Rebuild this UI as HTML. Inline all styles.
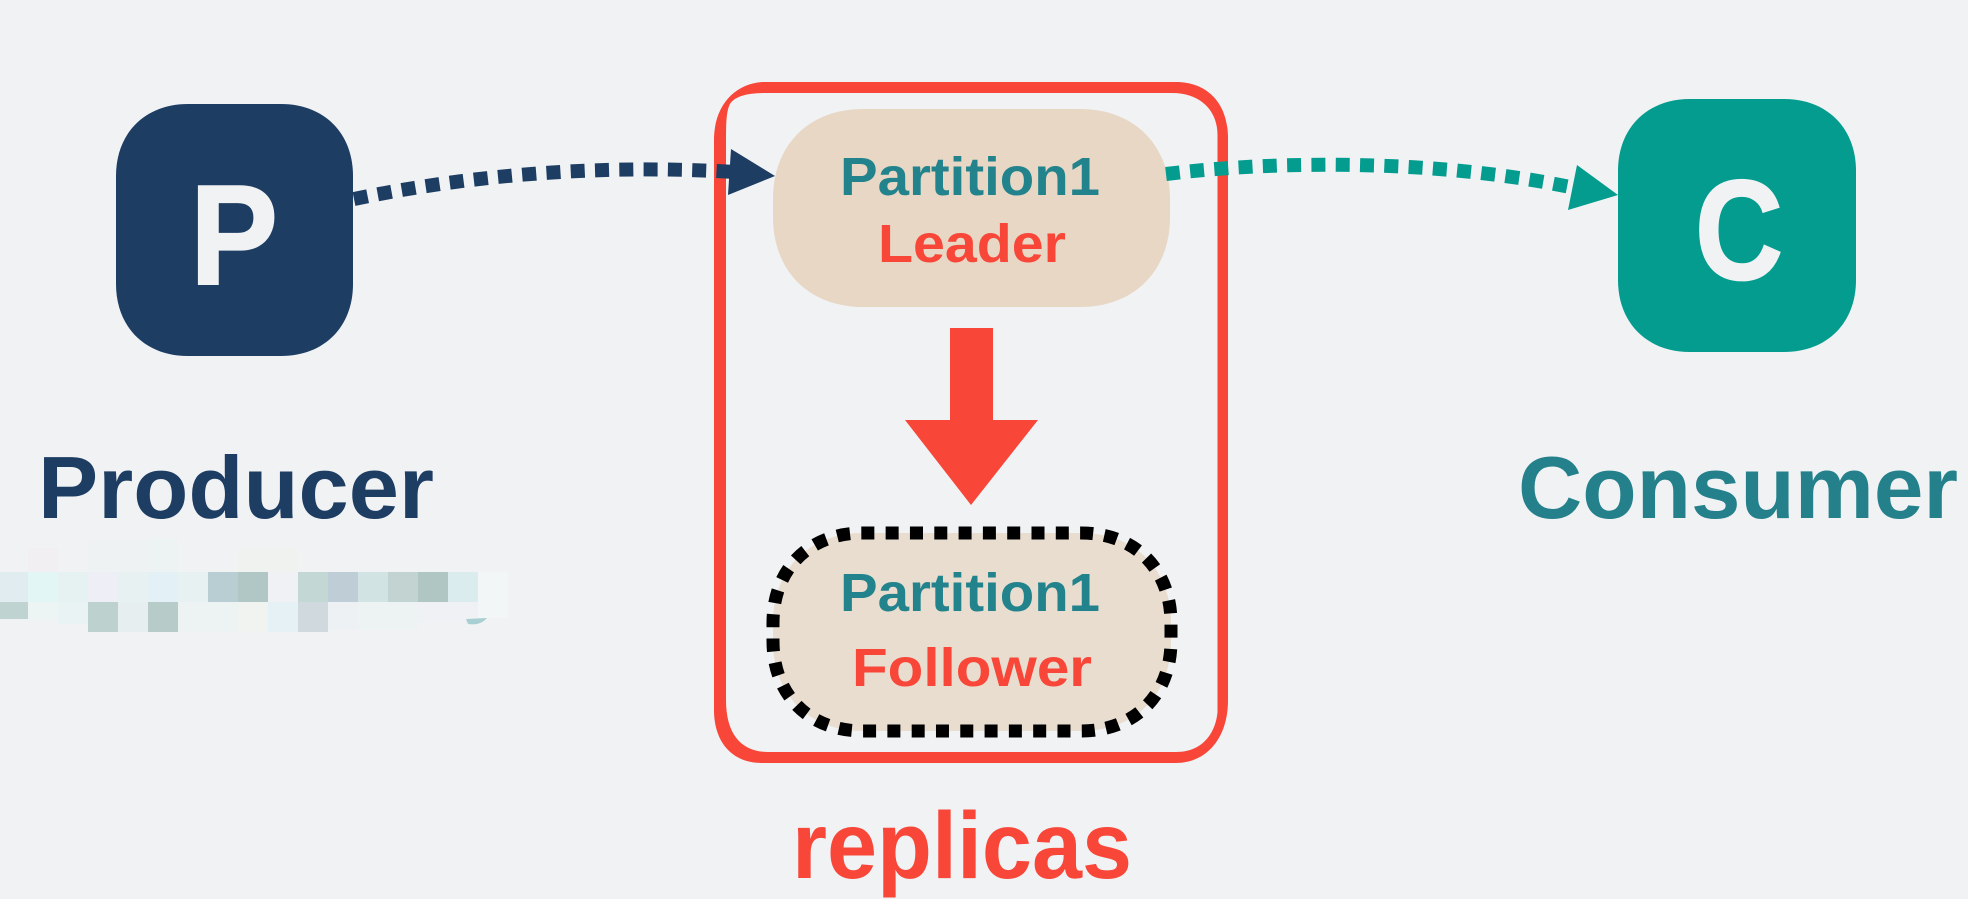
<!DOCTYPE html>
<html>
<head>
<meta charset="utf-8">
<style>
html,body{margin:0;padding:0;background:#f0f2f4;width:1968px;height:899px;overflow:hidden}
svg{display:block}
text{font-family:"Liberation Sans",sans-serif;font-weight:700;fill:currentColor}
</style>
</head>
<body>
<svg width="1968" height="899" viewBox="0 0 1968 899" xmlns="http://www.w3.org/2000/svg">
<rect width="1968" height="899" fill="#f0f2f4"/>

<!-- pixelated blur -->
<g shape-rendering="crispEdges">
<rect x="28" y="548" width="30" height="24" fill="#f2eff2"/>
<rect x="88" y="540" width="60" height="32" fill="#eef2f2"/>
<rect x="148" y="538" width="30" height="34" fill="#edf3f2"/>
<rect x="238" y="548" width="60" height="24" fill="#f0f2f0"/>
<rect x="0" y="572" width="28" height="30" fill="#e1ecf1"/>
<rect x="28" y="572" width="30" height="30" fill="#e3f6f6"/>
<rect x="58" y="572" width="30" height="30" fill="#e6f2f2"/>
<rect x="88" y="572" width="30" height="30" fill="#eeeef6"/>
<rect x="118" y="572" width="30" height="30" fill="#e8f1f2"/>
<rect x="148" y="572" width="30" height="30" fill="#e3f1f6"/>
<rect x="178" y="572" width="30" height="30" fill="#e8f1f1"/>
<rect x="208" y="572" width="30" height="30" fill="#b9ced3"/>
<rect x="238" y="572" width="30" height="30" fill="#b0c7c5"/>
<rect x="268" y="572" width="30" height="30" fill="#f0f1f5"/>
<rect x="298" y="572" width="30" height="30" fill="#c3d7d4"/>
<rect x="328" y="572" width="30" height="30" fill="#bfced6"/>
<rect x="358" y="572" width="30" height="30" fill="#d1e3e2"/>
<rect x="388" y="572" width="30" height="30" fill="#c3d3d2"/>
<rect x="418" y="572" width="30" height="30" fill="#b0c6c3"/>
<rect x="448" y="572" width="30" height="30" fill="#daecee"/>
<rect x="478" y="572" width="30" height="46" fill="#f2f6f7"/>
<rect x="0" y="602" width="28" height="17" fill="#bfd3d0"/>
<rect x="28" y="602" width="30" height="18" fill="#ecf4f4"/>
<rect x="58" y="602" width="30" height="22" fill="#eaf3f3"/>
<rect x="88" y="602" width="30" height="30" fill="#bdd1cf"/>
<rect x="118" y="602" width="30" height="30" fill="#e6eef0"/>
<rect x="148" y="602" width="30" height="30" fill="#b7ccc8"/>
<rect x="178" y="602" width="60" height="30" fill="#edf3f3"/>
<rect x="238" y="602" width="30" height="30" fill="#f1f3f1"/>
<rect x="268" y="602" width="30" height="30" fill="#e6f1f6"/>
<rect x="298" y="602" width="30" height="30" fill="#d0dade"/>
<rect x="328" y="602" width="30" height="28" fill="#edf1f4"/>
<rect x="358" y="602" width="60" height="28" fill="#edf2f3"/>
<rect x="418" y="602" width="60" height="20" fill="#f0f1f5"/>
</g>
<path d="M466 619 L487 618 Q480 626 468 624Z" fill="#a8cfd2"/>

<!-- replicas container with uneven corner crescents -->
<path fill="#f84638" fill-rule="evenodd" d="M762 82 H1176 C1208 82 1228 104 1228 138 V700 C1228 740 1205 763 1176 763 H762 C732 763 714 742 714 710 V140 C714 105 735 84 762 82 Z
M765 93 C748 93 735 96 730 104 C727 110 726 118 726 140 V700 C726 735 742 752 768 752 H1176 C1205 752 1216 730 1217.5 712 V135 C1217.5 110 1200 93 1172 93 Z"/>

<!-- producer -->
<path fill="#1d3d63" d="M188 104 H281 C324 104 353 133 353 176 V284 C353 327 324 356 281 356 H188 C145 356 116 327 116 284 V176 C116 133 145 104 188 104Z"/>
<text x="190" y="284" font-size="142" color="#f0f2f4" stroke="#f0f2f4" stroke-width="2" textLength="88" lengthAdjust="spacingAndGlyphs">P</text>
<text x="38" y="518" font-size="88" color="#1d3d63" textLength="396" lengthAdjust="spacingAndGlyphs">Producer</text>

<!-- consumer -->
<path fill="#039c8e" d="M1690 99 H1784 C1827 99 1856 128 1856 171 V280 C1856 323 1827 352 1784 352 H1690 C1647 352 1618 323 1618 280 V171 C1618 128 1647 99 1690 99Z"/>
<text x="1695" y="279" font-size="142" color="#f0f2f4" stroke="#f0f2f4" stroke-width="2" textLength="88" lengthAdjust="spacingAndGlyphs">C</text>
<text x="1518" y="518" font-size="88" color="#24818b" textLength="440" lengthAdjust="spacingAndGlyphs">Consumer</text>

<!-- leader -->
<path fill="#e7d7c4" d="M863 109 H1080 C1134 109 1170 145 1170 199 V217 C1170 271 1134 307 1080 307 H863 C809 307 773 271 773 217 V199 C773 145 809 109 863 109Z"/>
<text x="840" y="195" font-size="54" color="#23838c" textLength="260" lengthAdjust="spacingAndGlyphs">Partition1</text>
<text x="878" y="262" font-size="54" color="#f84638" textLength="188" lengthAdjust="spacingAndGlyphs">Leader</text>

<!-- red arrow -->
<path fill="#f84638" d="M950 328 H993 V420 H1038 L971 505 L905 420 H950 Z"/>

<!-- follower -->
<path fill="#e9ddcf" stroke="#000" stroke-width="13" stroke-dasharray="13 11.3" d="M910 533 H1081 C1135 533 1171 569 1171 623 V641 C1171 695 1135 731 1081 731 H863 C809 731 773 695 773 641 V623 C773 569 809 533 863 533 Z"/>
<text x="840" y="611" font-size="54" color="#23838c" textLength="260" lengthAdjust="spacingAndGlyphs">Partition1</text>
<text x="852" y="686" font-size="54" color="#f84638" textLength="240" lengthAdjust="spacingAndGlyphs">Follower</text>

<text x="792" y="878" font-size="95" color="#f84638" textLength="340" lengthAdjust="spacingAndGlyphs">replicas</text>

<!-- connectors -->
<path fill="none" stroke="#1d3d63" stroke-width="14" stroke-dasharray="14 10.3" d="M354 199 C470 175 600 164 735 172"/>
<path fill="#1d3d63" d="M731 149 L775 176 L728 195 Z"/>
<path fill="none" stroke="#039c8e" stroke-width="14" stroke-dasharray="14 10.3" d="M1166 174 C1280 160 1440 160 1570 187"/>
<path fill="#039c8e" d="M1577 165 L1618 195 L1568 210 Z"/>
</svg>
</body>
</html>
